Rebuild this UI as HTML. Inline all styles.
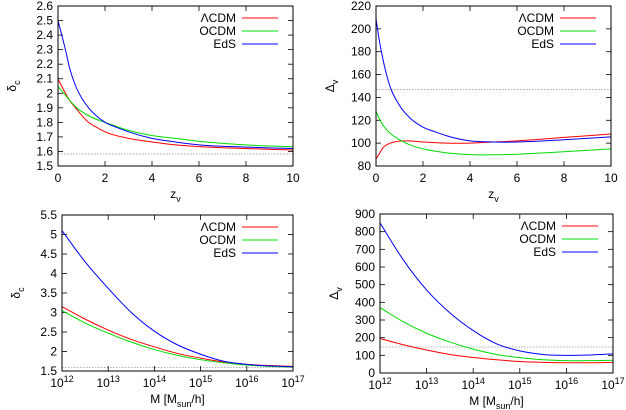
<!DOCTYPE html>
<html><head><meta charset="utf-8"><style>
html,body{margin:0;padding:0;background:#fff;}
svg{display:block;font-family:"Liberation Sans",sans-serif;}
</style></head><body>
<svg id="fig" width="626" height="410" viewBox="0 0 626 410"></svg>
<script>
// ---- data ----
const zLCDM = [0,0.25,0.5,0.8,1,1.3,1.6,2,3,4,5,6,8,10];
const tlLCDM = [2.1,2.02,1.95,1.89,1.85,1.80,1.77,1.735,1.69,1.665,1.645,1.633,1.62,1.61];
const zOCDM = [0,0.25,0.5,0.8,1,1.5,2,3,4,5,6,8,10];
const tlOCDM = [2.045,2.0,1.95,1.9,1.875,1.83,1.80,1.745,1.71,1.69,1.67,1.645,1.632];
const zEdS = [0,0.3,0.5,0.75,1,1.3,1.6,2,2.5,3,4,5,6,8,10];
const tlEdS  = [2.5,2.31,2.17,2.05,1.97,1.9,1.85,1.80,1.765,1.735,1.69,1.665,1.645,1.63,1.62];
const zvLCDM = [0,0.15,0.3,0.55,0.9,1.3,2,3,4,5,6,8,10];
const trLCDM = [86,91,96,99.5,101.5,102,101,100,100,101,102,105,108];
const zvOCDM = [0,0.2,0.4,0.7,1,1.5,2,2.5,3,4,5,6,8,10];
const trOCDM = [128,119,113,107,103,98,95,93,91.5,90,89.8,90.3,92.5,95];
const zvEdS = [0,0.1,0.25,0.5,1,1.5,2,2.5,3,4,5,6,8,10];
const trEdS  = [209,195,178,156,133,121,114,110,106.5,102,101,101,103,105.5];
const logM = [12,12.5,13,13.5,14,14.5,15,15.5,16,16.5,17];
const blLCDM = [3.15,2.83,2.55,2.31,2.12,1.95,1.83,1.73,1.67,1.64,1.62];
const blOCDM = [3.05,2.73,2.47,2.24,2.05,1.9,1.79,1.71,1.65,1.62,1.6];
const blEdS  = [5.1,4.3,3.62,3.0,2.52,2.17,1.93,1.75,1.67,1.63,1.61];
const brLCDM = [195,160,130,105,88,75,65,60,58,58,60];
const brOCDM = [370,290,225,175,135,105,87,75,70,70,72];
const brEdS  = [850,640,470,340,240,165,125,105,100,102,108];
const tlTicksY = [1.5,1.6,1.7,1.8,1.9,2,2.1,2.2,2.3,2.4,2.5,2.6];
const trTicksY = [80,100,120,140,160,180,200,220];
const blTicksY = [1.5,2,2.5,3,3.5,4,4.5,5,5.5];
const brTicksY = [0,100,200,300,400,500,600,700,800,900];
const zTicks = [0,2,4,6,8,10];
const mTicks = [12,13,14,15,16,17];

const NS="http://www.w3.org/2000/svg";
const svg=document.getElementById('fig');
function el(tag,attrs,parent){const e=document.createElementNS(NS,tag);for(const k in attrs)e.setAttribute(k,attrs[k]);(parent||svg).appendChild(e);return e;}
// Hermite spline in x with finite-difference tangents (handles non-uniform spacing)
function smooth(pts){
  const n=pts.length,m=[];
  for(let i=0;i<n;i++){
    if(i===0) m.push((pts[1][1]-pts[0][1])/(pts[1][0]-pts[0][0]));
    else if(i===n-1) m.push((pts[n-1][1]-pts[n-2][1])/(pts[n-1][0]-pts[n-2][0]));
    else {
      const s0=(pts[i][1]-pts[i-1][1])/(pts[i][0]-pts[i-1][0]);
      const s1=(pts[i+1][1]-pts[i][1])/(pts[i+1][0]-pts[i][0]);
      const h0=pts[i][0]-pts[i-1][0],h1=pts[i+1][0]-pts[i][0];
      m.push((s0*h1+s1*h0)/(h0+h1));
    }
  }
  let d=`M${pts[0][0].toFixed(2)},${pts[0][1].toFixed(2)}`;
  for(let i=0;i<n-1;i++){
    const h=pts[i+1][0]-pts[i][0];
    const c1=[pts[i][0]+h/3,pts[i][1]+m[i]*h/3],c2=[pts[i+1][0]-h/3,pts[i+1][1]-m[i+1]*h/3];
    d+=`C${c1[0].toFixed(2)},${c1[1].toFixed(2)} ${c2[0].toFixed(2)},${c2[1].toFixed(2)} ${pts[i+1][0].toFixed(2)},${pts[i+1][1].toFixed(2)}`;
  }
  return d;
}

function panel(o){
  const g=el('g',{});
  
  
  const X=v=>o.x0+(v-o.xmin)/(o.xmax-o.xmin)*(o.x1-o.x0);
  const Y=v=>o.y1-(v-o.ymin)/(o.ymax-o.ymin)*(o.y1-o.y0);
  const ref=el('line',{x1:o.x0,x2:o.x1,y1:Y(o.ref),y2:Y(o.ref),stroke:'#999','stroke-width':0.8,'stroke-dasharray':'1.5,1.5'},g);
  
  
  o.yt.forEach(v=>{const y=Y(v);
    el('line',{x1:o.x0,x2:o.x0+5,y1:y,y2:y,stroke:'#000','stroke-width':0.8},g);
    el('line',{x1:o.x1,x2:o.x1-5,y1:y,y2:y,stroke:'#000','stroke-width':0.8},g);
    const t=el('text',{x:o.x0-5,y:y+4,'text-anchor':'end','font-size':12},g);t.textContent=o.yfmt(v);
    
    
  });
  o.xt.forEach(v=>{const x=X(v);
    el('line',{x1:x,x2:x,y1:o.y1,y2:o.y1-5,stroke:'#000','stroke-width':0.8},g);
    el('line',{x1:x,x2:x,y1:o.y0,y2:o.y0+5,stroke:'#000','stroke-width':0.8},g);
    const t=el('text',{x:x,y:o.y1+16,'text-anchor':'middle','font-size':12},g);
    if(o.log){t.textContent='10';const s=el('tspan',{dy:-5,'font-size':9},t);s.textContent=String(v);}
    else t.textContent=String(v);
    
    
  });
  const cols=['#ff0000','#00dd00','#0000ff'];const names=['ΛCDM','OCDM','EdS'];const ids=['lcdm','ocdm','eds'];
  o.series.forEach((s,i)=>{
    const xs=o.xsList[i];
    const p=el('path',{d:smooth(xs.map((x,j)=>[X(x),Y(s[j])])),fill:'none',stroke:cols[i],'stroke-width':1},g);
    
    
    const ly=o.y0+12+i*13;
    const t=el('text',{x:o.x1-57,y:ly+4,'text-anchor':'end','font-size':12},g);t.textContent=names[i];
    
    
    const l=el('line',{x1:o.x1-51,x2:o.x1-15,y1:ly,y2:ly,stroke:cols[i],'stroke-width':1},g);
    
    
  });
  const fr=el('rect',{x:o.x0,y:o.y0,width:o.x1-o.x0,height:o.y1-o.y0,fill:'none',stroke:'#000','stroke-width':1},g);
  
  
  const xt=el('text',{x:(o.x0+o.x1)/2,y:o.y1+32,'text-anchor':'middle','font-size':12},g);
  xt.innerHTML=o.xlab;
  
  
  const yt=el('text',{x:o.x0-42,y:(o.y0+o.y1)/2,'text-anchor':'middle','font-size':12,transform:`rotate(-90 ${o.x0-42} ${(o.y0+o.y1)/2})`},g);
  yt.innerHTML=o.ylab;
  
  
}
const f1=v=>(Math.round(v*10)/10).toString();
const zl='z<tspan dy="4" font-size="9">v</tspan>';
const ml='M [M<tspan dy="4" font-size="9">sun</tspan><tspan dy="-4">/h]</tspan>';
panel({name:'panel-deltac-z',x0:58,x1:293,y0:6,y1:166,xmin:0,xmax:10,ymin:1.5,ymax:2.6,xsList:[zLCDM,zOCDM,zEdS],series:[tlLCDM,tlOCDM,tlEdS],xt:zTicks,yt:tlTicksY,yfmt:f1,ref:1.583,xlab:zl,ylab:'δ<tspan dy="4" font-size="9">c</tspan>'});
panel({name:'panel-deltav-z',x0:376,x1:611,y0:6,y1:166,xmin:0,xmax:10,ymin:80,ymax:220,xsList:[zvLCDM,zvOCDM,zvEdS],series:[trLCDM,trOCDM,trEdS],xt:zTicks,yt:trTicksY,yfmt:String,ref:147,xlab:zl,ylab:'Δ<tspan dy="4" font-size="9">v</tspan>'});
panel({name:'panel-deltac-m',x0:62,x1:293,y0:215,y1:371,xmin:12,xmax:17,ymin:1.5,ymax:5.5,xsList:[logM,logM,logM],series:[blLCDM,blOCDM,blEdS],xt:mTicks,yt:blTicksY,yfmt:f1,ref:1.59,log:true,xlab:ml,ylab:'δ<tspan dy="4" font-size="9">c</tspan>'});
panel({name:'panel-deltav-m',x0:380,x1:613,y0:214,y1:373,xmin:12,xmax:17,ymin:0,ymax:900,xsList:[logM,logM,logM],series:[brLCDM,brOCDM,brEdS],xt:mTicks,yt:brTicksY,yfmt:String,ref:147,log:true,xlab:ml,ylab:'Δ<tspan dy="4" font-size="9">v</tspan>'});
</script>
</body></html>
